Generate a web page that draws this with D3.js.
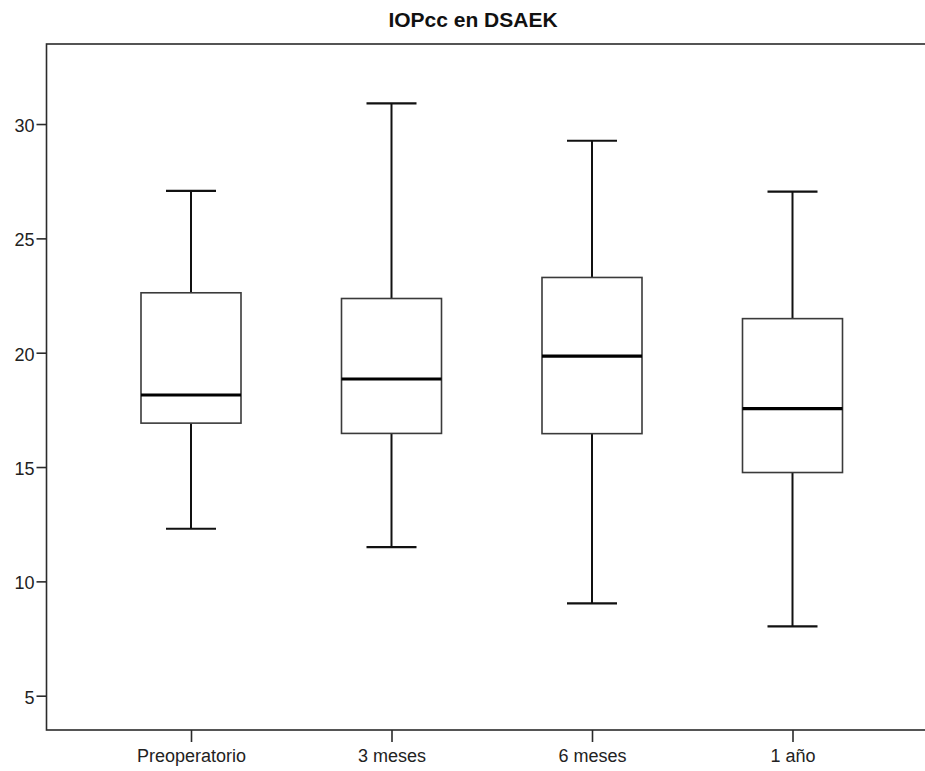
<!DOCTYPE html>
<html>
<head>
<meta charset="utf-8">
<script src="https://cdn.jsdelivr.net/npm/d3@7"></script>
<style>
  html, body { margin: 0; padding: 0; background: #fff; }
  svg { display: block; }
</style>
</head>
<body>
<svg id="chart" width="925" height="771"></svg>
<script>
const title = "IOPcc en DSAEK";
const categories = ["Preoperatorio", "3 meses", "6 meses", "1 año"];
const whiskerLow  = [12.30, 11.50, 9.04, 8.03];
const q1          = [16.92, 16.47, 16.46, 14.76];
const median      = [18.15, 18.85, 19.85, 17.55];
const q3          = [22.62, 22.37, 23.29, 21.49];
const whiskerHigh = [27.08, 30.90, 29.27, 27.04];
const yTicks = [5, 10, 15, 20, 25, 30];

const svg = d3.select("#chart");
const font = "'Liberation Sans', Arial, sans-serif";

const plotLeft = 46.5, plotTop = 44, plotBottom = 730, plotRight = 960;

const x = d3.scalePoint().domain(categories).range([191, 792.5]);
const y = d3.scaleLinear().domain([3.5, 33.5]).range([plotBottom, plotTop]);

const boxW = 100, capW = 50;

// frame
svg.append("rect")
  .attr("x", plotLeft).attr("y", plotTop)
  .attr("width", plotRight - plotLeft).attr("height", plotBottom - plotTop)
  .attr("fill", "none").attr("stroke", "#2b2b2b").attr("stroke-width", 1.6);

// y axis
const yAxis = d3.axisLeft(y).tickValues(yTicks).tickSize(10).tickPadding(2).tickFormat(d3.format("d"));
const gy = svg.append("g").attr("transform", `translate(${plotLeft},0)`).call(yAxis);
gy.select(".domain").remove();
gy.selectAll(".tick line").attr("stroke", "#2b2b2b").attr("stroke-width", 1.6);
gy.selectAll(".tick text").attr("font-family", font).attr("font-size", 18).attr("fill", "#222").attr("dy", "0.42em");

// x axis
const xAxis = d3.axisBottom(x).tickSize(12).tickPadding(7);
const gx = svg.append("g").attr("transform", `translate(0,${plotBottom})`).call(xAxis);
gx.select(".domain").remove();
gx.selectAll(".tick line").attr("stroke", "#2b2b2b").attr("stroke-width", 1.6);
gx.selectAll(".tick text").attr("font-family", font).attr("font-size", 18).attr("fill", "#222");

const data = categories.map((c, i) => ({
  c, lo: whiskerLow[i], q1: q1[i], med: median[i], q3: q3[i], hi: whiskerHigh[i]
}));

const g = svg.append("g");
const box = g.selectAll("g.box").data(data).join("g").attr("class", "box");

// whiskers
box.append("line")
  .attr("x1", d => x(d.c)).attr("x2", d => x(d.c))
  .attr("y1", d => y(d.q3)).attr("y2", d => y(d.hi))
  .attr("stroke", "#111").attr("stroke-width", 2);
box.append("line")
  .attr("x1", d => x(d.c)).attr("x2", d => x(d.c))
  .attr("y1", d => y(d.q1)).attr("y2", d => y(d.lo))
  .attr("stroke", "#111").attr("stroke-width", 2);
// caps
box.append("line")
  .attr("x1", d => x(d.c) - capW / 2).attr("x2", d => x(d.c) + capW / 2)
  .attr("y1", d => y(d.hi)).attr("y2", d => y(d.hi))
  .attr("stroke", "#111").attr("stroke-width", 2.2);
box.append("line")
  .attr("x1", d => x(d.c) - capW / 2).attr("x2", d => x(d.c) + capW / 2)
  .attr("y1", d => y(d.lo)).attr("y2", d => y(d.lo))
  .attr("stroke", "#111").attr("stroke-width", 2.2);
// box
box.append("rect")
  .attr("x", d => x(d.c) - boxW / 2).attr("width", boxW)
  .attr("y", d => y(d.q3)).attr("height", d => y(d.q1) - y(d.q3))
  .attr("fill", "#fff").attr("stroke", "#3a3a3a").attr("stroke-width", 1.6);
// median
box.append("line")
  .attr("x1", d => x(d.c) - boxW / 2).attr("x2", d => x(d.c) + boxW / 2)
  .attr("y1", d => y(d.med)).attr("y2", d => y(d.med))
  .attr("stroke", "#000").attr("stroke-width", 3.2);

// title
svg.append("text")
  .attr("x", 473).attr("y", 27)
  .attr("text-anchor", "middle")
  .attr("font-family", font).attr("font-weight", "bold").attr("font-size", 21)
  .attr("fill", "#111")
  .text(title);
</script>
</body>
</html>
